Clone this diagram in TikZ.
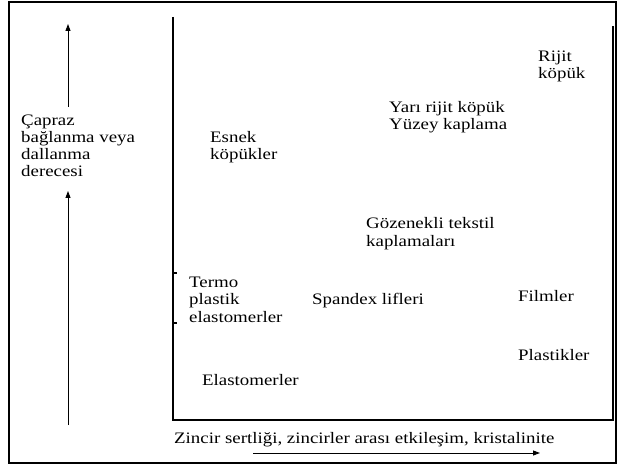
\documentclass[tikz,border=0pt]{standalone}
\usepackage{fontspec}
\setmainfont{Liberation Serif}[FakeStretch=1.18]
\usetikzlibrary{arrows.meta}
\begin{document}
\begin{tikzpicture}[x=1pt,y=-1pt,
  lbl/.style={inner sep=0pt, align=left, anchor=base west, font=\fontsize{16}{17.3}\selectfont},
  axisline/.style={line width=2.6pt},
  tick/.style={line width=1.4pt},
  arr/.style={line width=0.9pt,-{Triangle[length=7pt,width=5pt]}}]
\useasboundingbox (0,0) rectangle (618,465);
\draw[line width=2pt] (9,2) rectangle (616,463);
% axes box
\coordinate (tl) at (173,17);
\coordinate (bl) at (173,420);
\coordinate (br) at (613,420);
\coordinate (tr) at (613,26);
\draw[axisline] (tl) -- (bl) -- (br) -- (tr);
\coordinate (t1a) at (173,273); \coordinate (t1b) at (177,273);
\coordinate (t2a) at (173,323); \coordinate (t2b) at (177,323);
\draw[tick] (t1a) -- (t1b);
\draw[tick] (t2a) -- (t2b);
% labels (anchor = baseline of last line)
\node[lbl] (yl) at (21,177) {Çapraz\\bağlanma veya\\dallanma\\derecesi};
\node[lbl] (esnek) at (210,160) {Esnek\\köpükler};
\node[lbl] (yari) at (389,130) {Yarı rijit köpük\\Yüzey kaplama};
\node[lbl] (rijit) at (538,79) {Rijit\\köpük};
\node[lbl] (goz) at (366,246) {Gözenekli tekstil\\kaplamaları};
\node[lbl] (termo) at (189,322) {Termo\\plastik\\elastomerler};
\node[lbl] (spandex) at (312,304) {Spandex lifleri};
\node[lbl] (film) at (518,301) {Filmler};
\node[lbl] (plast) at (518,360) {Plastikler};
\node[lbl] (elast) at (202,385) {Elastomerler};
\node[lbl] (xl) at (174,443) {Zincir sertliği, zincirler arası etkileşim, kristalinite};
% arrows
\coordinate (ua) at (68,107); \coordinate (ub) at (68,24);
\coordinate (la) at (68,425); \coordinate (lb) at (68,191);
\coordinate (ba) at (253,453); \coordinate (bb) at (540,453);
\draw[arr] (ua) -- (ub);
\draw[arr] (la) -- (lb);
\draw[arr] (ba) -- (bb);
\end{tikzpicture}
\end{document}
